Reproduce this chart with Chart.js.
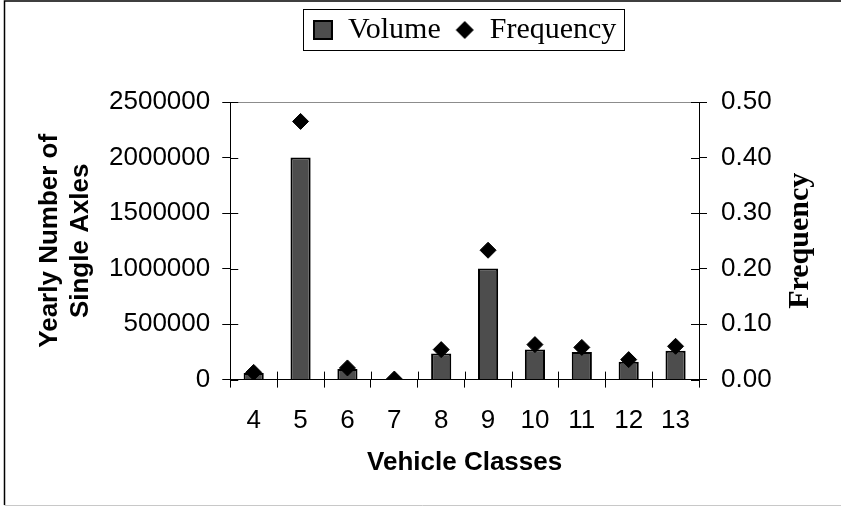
<!DOCTYPE html>
<html>
<head>
<meta charset="utf-8">
<script src="https://cdn.jsdelivr.net/npm/chart.js@4.4.1/dist/chart.umd.min.js"></script>
<style>
  body { margin: 0; background: #fff; }
  #wrap { width: 841px; height: 506px; }
</style>
</head>
<body>
<div id="wrap"><canvas id="axles-chart" width="841" height="506"></canvas></div>
<script>
const vehicleClasses = ["4", "5", "6", "7", "8", "9", "10", "11", "12", "13"];
const volume = [60000, 2000000, 95000, 3000, 235000, 1000000, 270000, 248000, 160000, 260000];
const frequency = [0.013, 0.465, 0.021, 0.001, 0.054, 0.233, 0.063, 0.058, 0.036, 0.060];

const sans = "'Liberation Sans', Arial, sans-serif";
const serif = "'Liberation Serif', 'Times New Roman', serif";
const legendLift = 47; // legend sits higher than its layout slot

// little icons for the legend (square and diamond have different sizes there)
function makeIcon(kind) {
  const c = document.createElement("canvas");
  c.width = 20;
  c.height = 20;
  const g = c.getContext("2d");
  if (kind === "square") {
    g.fillStyle = "#4d4d4d";
    g.fillRect(1, 1, 18, 18);
    g.lineWidth = 2;
    g.strokeStyle = "#000";
    g.strokeRect(1, 1, 18, 18);
  } else {
    g.fillStyle = "#000";
    g.beginPath();
    g.moveTo(10, 1);
    g.lineTo(19, 10);
    g.lineTo(10, 19);
    g.lineTo(1, 10);
    g.closePath();
    g.fill();
  }
  return c;
}
const squareIcon = makeIcon("square");
const diamondIcon = makeIcon("diamond");

const extras = {
  id: "extras",
  afterLayout(chart) {
    chart.legend.top -= legendLift;
    chart.legend.bottom -= legendLift;
  },
  afterDraw(chart) {
    const ctx = chart.ctx;
    const area = chart.chartArea;
    const x = chart.scales.x;
    const y = chart.scales.y;
    const y1 = chart.scales.y1;
    ctx.save();

    // outer frame
    ctx.strokeStyle = "#000";
    ctx.lineWidth = 1.5;
    ctx.beginPath();
    ctx.moveTo(841, 1);
    ctx.lineTo(4.5, 1);
    ctx.lineTo(4.5, 505);
    ctx.stroke();
    ctx.strokeStyle = "#c8c8c8";
    ctx.lineWidth = 1;
    ctx.beginPath();
    ctx.moveTo(4.5, 505.5);
    ctx.lineTo(841, 505.5);
    ctx.stroke();

    // inner half of the crossing tick marks
    ctx.strokeStyle = "#000";
    ctx.lineWidth = 1;
    ctx.beginPath();
    y.ticks.forEach((t, i) => {
      const py = Math.round(y.getPixelForTick(i)) + 0.5;
      ctx.moveTo(area.left, py);
      ctx.lineTo(area.left + 8, py);
    });
    y1.ticks.forEach((t, i) => {
      const py = Math.round(y1.getPixelForTick(i)) + 0.5;
      ctx.moveTo(area.right - 8, py);
      ctx.lineTo(area.right, py);
    });
    for (let i = 0; i <= vehicleClasses.length; i++) {
      const px = Math.round(x.getPixelForValue(i - 0.5)) + 0.5;
      ctx.moveTo(px, area.bottom - 8);
      ctx.lineTo(px, area.bottom);
    }
    ctx.stroke();

    // box round the legend
    const boxes = chart.legend.legendHitBoxes;
    if (boxes && boxes.length) {
      const l = Math.min(...boxes.map(b => b.left)) - 10;
      const r = Math.max(...boxes.map(b => b.left + b.width)) + 8;
      const t = Math.min(...boxes.map(b => b.top)) - 6;
      const b2 = Math.max(...boxes.map(b => b.top + b.height)) + 5;
      ctx.strokeStyle = "#000";
      ctx.lineWidth = 1;
      ctx.strokeRect(Math.round(l) + 0.5, Math.round(t) + 0.5, Math.round(r - l), Math.round(b2 - t));
    }

    // right axis title, reading upwards
    ctx.translate(y1.left + 101, (area.top + area.bottom) / 2);
    ctx.rotate(-Math.PI / 2);
    ctx.fillStyle = "#000";
    ctx.font = "bold 30px " + serif;
    ctx.textAlign = "center";
    ctx.textBaseline = "middle";
    ctx.fillText("Frequency", 0, 0);
    ctx.restore();
  },
};

new Chart(document.getElementById("axles-chart"), {
  type: "bar",
  data: {
    labels: vehicleClasses,
    datasets: [
      {
        label: "Volume",
        data: volume,
        yAxisID: "y",
        backgroundColor: "#4d4d4d",
        borderColor: "#000",
        borderWidth: 2,
        barPercentage: 0.43,
        categoryPercentage: 1,
        order: 1,
      },
      {
        type: "line",
        label: "Frequency",
        data: frequency,
        yAxisID: "y1",
        showLine: false,
        pointStyle: "rectRot",
        pointRadius: 8,
        pointBackgroundColor: "#000",
        pointBorderColor: "#000",
        pointBorderWidth: 1,
        backgroundColor: "#000",
        borderColor: "#000",
        order: 0,
      },
    ],
  },
  options: {
    responsive: false,
    animation: false,
    layout: {
      padding: { left: 30, right: 10, top: 6 + 42, bottom: 24 },
    },
    scales: {
      x: {
        offset: true,
        grid: {
          display: true,
          offset: true,
          drawOnChartArea: false,
          tickLength: 8,
          tickColor: "#000",
        },
        border: { display: true, color: "#000", width: 1 },
        ticks: {
          color: "#000",
          padding: 18,
          font: { family: sans, size: 26 },
        },
        title: {
          display: true,
          text: "Vehicle Classes",
          color: "#000",
          font: { family: sans, size: 26, weight: "bold" },
          padding: { top: -8, bottom: 4 },
        },
      },
      y: {
        position: "left",
        min: 0,
        max: 2500000,
        grid: {
          // only the top line of the plot is visible
          color: (c) => (c.tick && c.tick.value === 2500000 ? "#8c8c8c" : "rgba(0,0,0,0)"),
          tickColor: "#000",
          tickLength: 8,
        },
        border: { display: true, color: "#000", width: 1 },
        ticks: {
          stepSize: 500000,
          color: "#000",
          padding: 12,
          font: { family: sans, size: 26 },
          callback: (v) => String(v),
        },
        title: {
          display: true,
          text: ["Yearly Number of", "Single Axles"],
          color: "#000",
          font: { family: sans, size: 26, weight: "bold" },
          padding: { top: 4, bottom: 17 },
        },
      },
      y1: {
        position: "right",
        min: 0,
        max: 0.5,
        grid: {
          drawOnChartArea: false,
          tickColor: "#000",
          tickLength: 8,
        },
        border: { display: true, color: "#000", width: 1 },
        ticks: {
          stepSize: 0.1,
          color: "#000",
          padding: 14,
          font: { family: sans, size: 26 },
          callback: (v) => Number(v).toFixed(2),
        },
        afterFit: (scale) => {
          scale.width = 132;
        },
      },
    },
    plugins: {
      legend: {
        display: true,
        position: "top",
        fullSize: false,
        labels: {
          usePointStyle: true,
          boxWidth: 20,
          boxHeight: 20,
          padding: 14,
          color: "#000",
          font: { family: serif, size: 30 },
          sort: (a, b) => a.datasetIndex - b.datasetIndex,
          generateLabels: (chart) => {
            const items = Chart.defaults.plugins.legend.labels.generateLabels(chart);
            items.forEach((it) => {
              it.pointStyle = it.datasetIndex === 0 ? squareIcon : diamondIcon;
            });
            return items;
          },
        },
      },
      tooltip: { enabled: false },
    },
  },
  plugins: [extras],
});
</script>
</body>
</html>
